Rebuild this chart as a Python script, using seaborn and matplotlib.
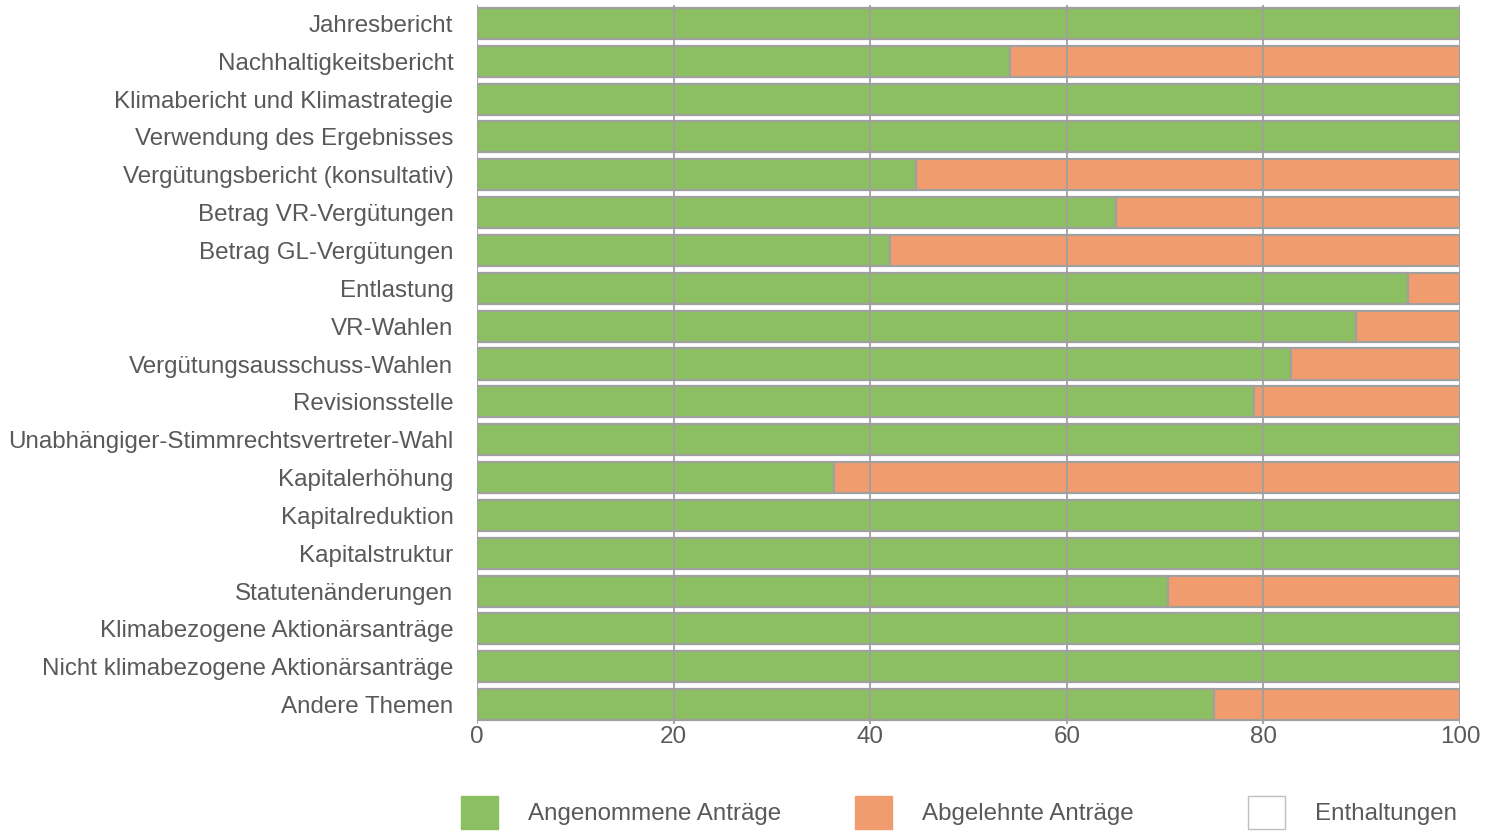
import seaborn as sns
import pandas as pd
import matplotlib.pyplot as plt
from matplotlib.patches import Patch

categories = [
    "Jahresbericht",
    "Nachhaltigkeitsbericht",
    "Klimabericht und Klimastrategie",
    "Verwendung des Ergebnisses",
    "Vergütungsbericht (konsultativ)",
    "Betrag VR-Vergütungen",
    "Betrag GL-Vergütungen",
    "Entlastung",
    "VR-Wahlen",
    "Vergütungsausschuss-Wahlen",
    "Revisionsstelle",
    "Unabhängiger-Stimmrechtsvertreter-Wahl",
    "Kapitalerhöhung",
    "Kapitalreduktion",
    "Kapitalstruktur",
    "Statutenänderungen",
    "Klimabezogene Aktionärsanträge",
    "Nicht klimabezogene Aktionärsanträge",
    "Andere Themen",
]
angenommen = [100, 54.2, 100, 100, 44.7, 65.0, 42.0, 94.7, 89.4, 82.8,
              79.0, 100, 36.3, 100, 100, 70.3, 100, 100, 75.0]
abgelehnt = [0, 45.8, 0, 0, 55.3, 35.0, 58.0, 5.3, 10.6, 17.2,
             21.0, 0, 63.7, 0, 0, 29.7, 0, 0, 25.0]
enthaltungen = [0] * len(categories)

series_names = ["Angenommene Anträge", "Abgelehnte Anträge", "Enthaltungen"]
GREEN = "#8cbe62"
ORANGE = "#f09c6f"
EDGE = "#a0a0a0"
TEXT = "#595959"
FS = 17.4

df = pd.DataFrame({
    "Thema": categories,
    "ang": angenommen,
    "abg": abgelehnt,
    "ent": enthaltungen,
})
df["c1"] = df["ang"]
df["c2"] = df["ang"] + df["abg"]
df["c3"] = df["c2"] + df["ent"]

sns.set_style("white")
plt.rcParams["font.family"] = ["Liberation Sans", "DejaVu Sans"]

fig = plt.figure(figsize=(14.94, 8.32), dpi=100)
ax = fig.add_axes([477 / 1494, 1 - 723.5 / 832, (1460 - 477) / 1494, (723.5 - 4.5) / 832])

sns.barplot(data=df, x="c3", y="Thema", orient="h", color="white",
            edgecolor=EDGE, linewidth=1.5, width=0.82, ax=ax)
sns.barplot(data=df, x="c2", y="Thema", orient="h", color=ORANGE,
            edgecolor=EDGE, linewidth=1.5, width=0.82, ax=ax, saturation=1)
sns.barplot(data=df, x="c1", y="Thema", orient="h", color=GREEN,
            edgecolor=EDGE, linewidth=1.5, width=0.82, ax=ax, saturation=1)

ax.set_xlim(0, 100)
ax.set_ylim(len(categories) - 0.5, -0.5)
ax.set_xticks([0, 20, 40, 60, 80, 100])
ax.set_axisbelow(False)
ax.grid(axis="x", color=EDGE, linewidth=1.3)
ax.grid(axis="y", visible=False)
for s in ax.spines.values():
    s.set_visible(False)
ax.set_xlabel("")
ax.set_ylabel("")
ax.tick_params(axis="both", length=0, labelsize=FS, colors=TEXT, pad=2)
ax.tick_params(axis="y", pad=17)

handles = [
    Patch(facecolor=GREEN, edgecolor=GREEN, label=series_names[0]),
    Patch(facecolor=ORANGE, edgecolor=ORANGE, label=series_names[1]),
    Patch(facecolor="white", edgecolor="#c0c0c0", label=series_names[2]),
]
for h, x0 in zip(handles, [461, 855, 1248]):
    fig.legend(handles=[h], loc="upper left", bbox_to_anchor=(x0 / 1494, 1 - 796 / 832),
               frameon=False, fontsize=FS, labelcolor=TEXT,
               handlelength=1.53, handleheight=1.7, handletextpad=1.24,
               borderaxespad=0, borderpad=0)

fig.savefig("out.png", dpi=100)
